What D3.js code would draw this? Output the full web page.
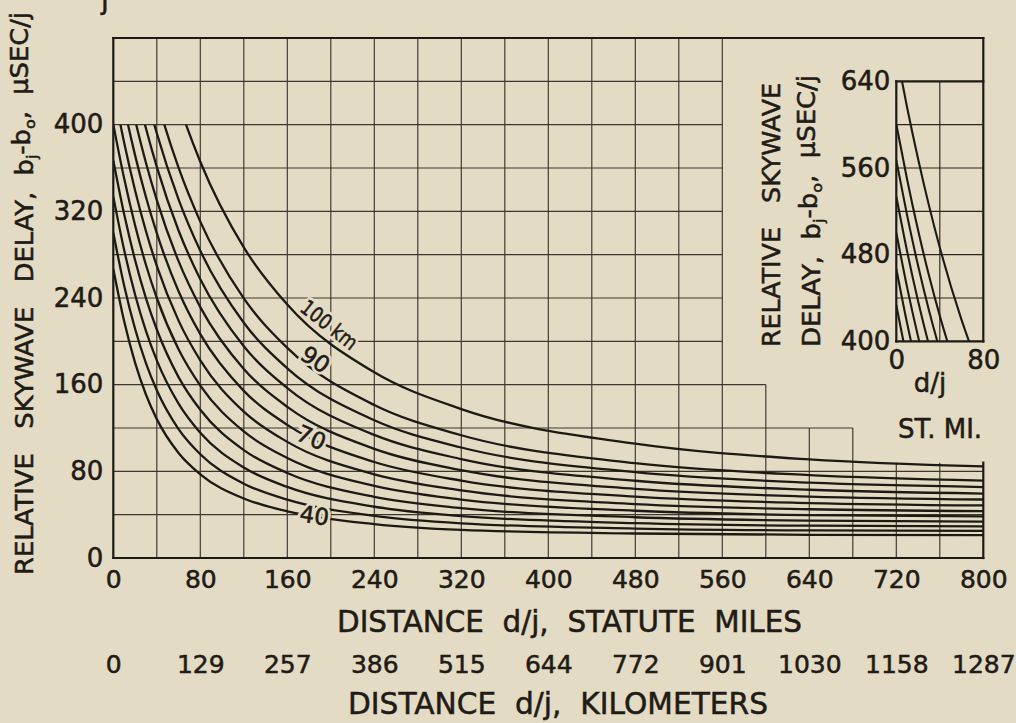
<!DOCTYPE html>
<html><head><meta charset="utf-8">
<script src="https://cdn.jsdelivr.net/npm/d3@7"></script>
<style>
html,body{margin:0;padding:0;background:#e4dbc4;}
svg{display:block;}
text{font-family:"DejaVu Sans",sans-serif;fill:#1f1b16;}
.ink text, text.ink{stroke:#1f1b16;stroke-width:0.55px;}
</style></head><body>
<svg id="chart" width="1016" height="723"></svg>
<script>
// ---- data ----
const miles = [0,10,20,30,40,60,80,120,160,240,320,480,640,800];
const heightsKm = [100,90,85,80,75,70,65,60,55,50,45,40];
const delay100 = [667.1,615.6,568.5,525.5,486.6,419.8,365.8,286.7,234.0,171.4,137.5,105.5,91.0,84.5];
const delay90  = [600.4,549.2,502.7,460.9,423.5,360.3,310.5,239.7,194.0,141.2,113.3,87.5,76.5,71.5];
const delay85  = [567.1,516.0,469.9,428.7,392.1,331.1,283.6,217.2,175.1,127.1,102.0,79.2,69.5,65.5];
const delay80  = [533.7,482.8,437.2,396.7,361.1,302.3,257.3,195.5,156.9,113.6,91.3,71.3,63.0,59.5];
const delay75  = [500.3,449.6,404.5,364.9,330.3,274.0,231.6,174.5,139.5,100.8,81.1,63.8,56.7,54.0];
const delay70  = [467.0,416.4,371.9,333.2,299.8,246.2,206.6,154.3,122.9,88.6,71.4,56.6,50.7,48.5];
const delay65  = [433.6,383.3,339.5,301.8,269.6,219.1,182.4,135.1,107.2,77.2,62.4,49.8,45.0,43.3];
const delay60  = [400.3,350.2,307.2,270.7,240.0,192.6,159.1,116.8,92.3,66.5,53.9,43.6,39.6,38.4];
const delay55  = [366.9,317.2,275.1,239.9,210.9,167.0,136.8,99.6,78.5,56.5,46.0,37.6,34.5,33.6];
const delay50  = [333.6,284.2,243.2,209.6,182.4,142.5,115.6,83.5,65.6,47.3,38.7,32.2,29.8,29.2];
const delay45  = [300.2,251.3,211.6,179.9,154.8,119.0,95.8,68.6,53.8,38.9,32.0,27.2,25.5,25.1];
const delay40  = [266.8,218.5,180.4,150.9,128.2,97.0,77.3,54.9,43.1,31.3,25.9,22.6,21.4,21.1];
const delays = [delay100,delay90,delay85,delay80,delay75,delay70,delay65,delay60,delay55,delay50,delay45,delay40];

const xTicks = [0,80,160,240,320,400,480,560,640,720,800];
const yTicks = [0,80,160,240,320,400];
const kmLabels = ["0","129","257","386","515","644","772","901","1030","1158","1287"];
const insetXTicks = [0,80];
const insetYTicks = [400,480,560,640];
const curveLabels = [
  {h:100, text:"100 km", at:193},
  {h:90,  text:"90",     at:183},
  {h:70,  text:"70",     at:183},
  {h:40,  text:"40",     at:185}
];

// ---- layout ----
const INK = "#1d1a15", BG = "#e4dbc4";
const svg = d3.select("#chart");
svg.append("rect").attr("width",1016).attr("height",723).attr("fill",BG);

const x = d3.scaleLinear().domain([0,800]).range([113.3,983.3]);
const y = d3.scaleLinear().domain([0,480]).range([558,38]);
const ix = d3.scaleLinear().domain([0,80]).range([x(720),x(800)]);
const iy = d3.scaleLinear().domain([400,640]).range([y(200),y(440)]);

const series = heightsKm.map((h,i)=>({h, pts: miles.map((m,j)=>[m, delays[i][j]])}));

// blank (no-grid) region steps: for x in (from, to] the grid starts at value top
const blankSteps = [{from:560,to:600,top:160},{from:600,to:680,top:120},{from:680,to:800,top:88}];
function vTop(v){ for(const s of blankSteps){ if(v>s.from && v<=s.to) return s.top; } return 480; }
function hRight(v){ let r=560; for(const s of blankSteps){ if(v<=s.top) r=s.to; } return v>160?560:r; }

const grid = svg.append("g").attr("stroke","#2a261f").attr("stroke-width",1.15).attr("opacity",0.9);
d3.range(40,800,40).forEach(v=>{
  grid.append("line").attr("x1",x(v)).attr("x2",x(v)).attr("y1",y(0)).attr("y2",y(vTop(v)));
});
d3.range(40,480,40).forEach(v=>{
  grid.append("line").attr("x1",x(0)).attr("x2",x(hRight(v))).attr("y1",y(v)).attr("y2",y(v));
});

// frame
const frame = svg.append("g").attr("stroke",INK).attr("stroke-width",2.2).attr("fill","none").attr("stroke-linecap","square");
frame.append("line").attr("x1",x(0)).attr("x2",x(800)).attr("y1",y(480)).attr("y2",y(480));
frame.append("line").attr("x1",x(0)).attr("x2",x(800)).attr("y1",y(0)).attr("y2",y(0));
frame.append("line").attr("x1",x(0)).attr("x2",x(0)).attr("y1",y(0)).attr("y2",y(480));
frame.append("line").attr("x1",x(800)).attr("x2",x(800)).attr("y1",y(0)).attr("y2",y(88));
frame.append("line").attr("x1",x(800)).attr("x2",x(800)).attr("y1",y(200)).attr("y2",y(480));

// clips
const defs = svg.append("defs");
defs.append("clipPath").attr("id","mainClip").append("rect")
  .attr("x",x(0)).attr("y",y(400)).attr("width",x(800)-x(0)).attr("height",y(0)-y(400));
defs.append("clipPath").attr("id","insetClip").append("rect")
  .attr("x",ix(0)).attr("y",iy(640)).attr("width",ix(80)-ix(0)).attr("height",iy(400)-iy(640));

// main curves
const line = d3.line().x(d=>x(d[0])).y(d=>y(d[1])).curve(d3.curveMonotoneX);
svg.append("g").attr("clip-path","url(#mainClip)")
  .selectAll("path").data(series).join("path")
  .attr("d",d=>line(d.pts)).attr("fill","none").attr("stroke",INK).attr("stroke-width",2.3);

// curve labels
function interp(pts, m){
  for(let i=1;i<pts.length;i++){ if(m<=pts[i][0]){ const a=pts[i-1], b=pts[i]; const t=(m-a[0])/(b[0]-a[0]); return a[1]+t*(b[1]-a[1]); } }
  return pts[pts.length-1][1];
}
const labelStyle = {100:{size:21,len:66,off:-10},90:{size:23,off:-6},70:{size:23,off:2},40:{size:23,off:0}};
curveLabels.forEach(L=>{
  const s = series.find(d=>d.h===L.h);
  const px = x(L.at), py = y(interp(s.pts,L.at));
  const ang = Math.atan2(y(interp(s.pts,L.at+12))-y(interp(s.pts,L.at-12)), x(L.at+12)-x(L.at-12))*180/Math.PI;
  const st = labelStyle[L.h];
  svg.append("text").attr("transform",`translate(${px},${py}) rotate(${ang})`)
    .attr("y",st.off).attr("dy","0.36em").attr("text-anchor","middle")
    .attr("font-size",st.size).attr("fill",BG).attr("stroke",BG).attr("stroke-width",6)
    .attr("textLength",st.len||null).attr("lengthAdjust","spacingAndGlyphs")
    .text(L.text);
  svg.append("text").attr("class","ink").attr("transform",`translate(${px},${py}) rotate(${ang})`)
    .attr("y",st.off).attr("dy","0.36em").attr("text-anchor","middle")
    .attr("font-size",st.size)
    .attr("textLength",st.len||null).attr("lengthAdjust","spacingAndGlyphs")
    .text(L.text);
});

// axes
function styleAxis(g,size){ g.select(".domain").remove(); g.attr("font-family","DejaVu Sans").attr("font-size",size).attr("class","ink"); g.selectAll("text").attr("fill",INK); }
svg.append("g").attr("transform",`translate(0,${y(0)})`)
  .call(d3.axisBottom(x).tickValues(xTicks).tickSize(0).tickPadding(12).tickFormat(d3.format("d")))
  .call(g=>styleAxis(g,25));
svg.append("g").attr("transform",`translate(0,643)`)
  .call(d3.axisBottom(x).tickValues(xTicks).tickSize(0).tickPadding(12).tickFormat((d,i)=>kmLabels[i]))
  .call(g=>styleAxis(g,25));
svg.append("g").attr("transform",`translate(${x(0)},0)`)
  .call(d3.axisLeft(y).tickValues(yTicks).tickSize(0).tickPadding(10).tickFormat(d3.format("d")))
  .call(g=>styleAxis(g,26));

// titles
svg.append("text").attr("class","ink").attr("x",337).attr("y",632).attr("font-size",30)
  .attr("textLength",465).attr("lengthAdjust","spacingAndGlyphs").style("white-space","pre")
  .text("DISTANCE  d/j,  STATUTE  MILES");
svg.append("text").attr("class","ink").attr("x",348).attr("y",714).attr("font-size",30)
  .attr("textLength",420).attr("lengthAdjust","spacingAndGlyphs").style("white-space","pre")
  .text("DISTANCE  d/j,  KILOMETERS");

function delayTitle(sel, txt1){
  sel.append("tspan").text(txt1+"b");
  sel.append("tspan").attr("font-size","0.62em").attr("dy","0.3em").text("j");
  sel.append("tspan").attr("dy","-0.3em").text("-b");
  sel.append("tspan").attr("font-size","0.62em").attr("dy","0.3em").text("o");
  sel.append("tspan").attr("dy","-0.3em").text(",  \u03BCSEC/j");
}
const yt = svg.append("text").attr("class","ink").attr("transform","translate(33,575) rotate(-90)").attr("font-size",24)
  .attr("textLength",563).attr("lengthAdjust","spacingAndGlyphs").style("white-space","pre");
delayTitle(yt,"RELATIVE   SKYWAVE   DELAY,  ");

svg.append("text").attr("class","ink").attr("x",101).attr("y",9).attr("font-size",28).text("j");

// ---- inset ----
const inset = svg.append("g");
const ig = inset.append("g").attr("stroke","#2a261f").attr("stroke-width",1.15);
ig.append("line").attr("x1",ix(40)).attr("x2",ix(40)).attr("y1",iy(400)).attr("y2",iy(640));
[440,480,520,560,600].forEach(v=>ig.append("line").attr("x1",ix(0)).attr("x2",ix(80)).attr("y1",iy(v)).attr("y2",iy(v)));
const ifr = inset.append("g").attr("stroke",INK).attr("stroke-width",2.2).attr("stroke-linecap","square");
ifr.append("line").attr("x1",ix(0)).attr("x2",ix(80)).attr("y1",iy(640)).attr("y2",iy(640));
ifr.append("line").attr("x1",ix(0)).attr("x2",ix(80)).attr("y1",iy(400)).attr("y2",iy(400));
ifr.append("line").attr("x1",ix(0)).attr("x2",ix(0)).attr("y1",iy(400)).attr("y2",iy(640));

const iline = d3.line().x(d=>ix(d[0])).y(d=>iy(d[1])).curve(d3.curveMonotoneX);
inset.append("g").attr("clip-path","url(#insetClip)")
  .selectAll("path").data(series).join("path")
  .attr("d",d=>iline(d.pts)).attr("fill","none").attr("stroke",INK).attr("stroke-width",2.1);

svg.append("g").attr("transform",`translate(${ix(0)},0)`)
  .call(d3.axisLeft(iy).tickValues(insetYTicks).tickSize(0).tickPadding(6).tickFormat(d3.format("d")))
  .call(g=>styleAxis(g,26));
svg.append("g").attr("transform",`translate(0,${iy(400)})`)
  .call(d3.axisBottom(ix).tickValues(insetXTicks).tickSize(0).tickPadding(9).tickFormat(d3.format("d")))
  .call(g=>styleAxis(g,26));

svg.append("text").attr("class","ink").attr("x",930).attr("y",392).attr("text-anchor","middle").attr("font-size",26).text("d/j");
svg.append("text").attr("class","ink").attr("x",940).attr("y",438).attr("text-anchor","middle").attr("font-size",26).text("ST. MI.");
svg.append("text").attr("class","ink").attr("transform","translate(780,347) rotate(-90)").attr("font-size",24)
  .attr("textLength",264).attr("lengthAdjust","spacingAndGlyphs").style("white-space","pre")
  .text("RELATIVE   SKYWAVE");
const it2 = svg.append("text").attr("class","ink").attr("transform","translate(820,347) rotate(-90)").attr("font-size",24)
  .attr("textLength",272).attr("lengthAdjust","spacingAndGlyphs").style("white-space","pre");
delayTitle(it2,"DELAY,  ");
</script>
</body></html>
